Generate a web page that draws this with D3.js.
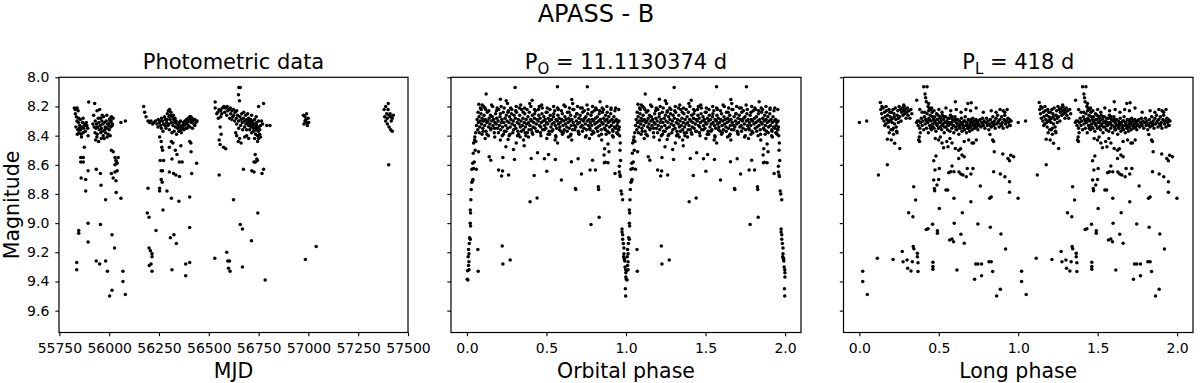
<!DOCTYPE html>
<html>
<head>
<meta charset="utf-8">
<script src="https://cdn.jsdelivr.net/npm/d3@7"></script>
<style>
  html, body { margin: 0; padding: 0; background: #fff; }
  svg text { font-family: "DejaVu Sans", sans-serif; fill: #000; }
</style>
</head>
<body>
<script>
// ---------------- DATA ----------------
const figTitle = "APASS - B";
const yLabel = "Magnitude";
const magTicks = [8.0, 8.2, 8.4, 8.6, 8.8, 9.0, 9.2, 9.4, 9.6];
const mjdTicks = [55750, 56000, 56250, 56500, 56750, 57000, 57250, 57500];
const phaseTicks = [0.0, 0.5, 1.0, 1.5, 2.0];
const orbitalPeriod = "11.1130374";
const longPeriod = "418";

// Photometric data: [MJD, magnitude]
const photData = [
[55825,8.21],[55830,8.22],[55839,8.21],[55844,8.23],[55830,8.25],[55835,8.27],[55847,8.28],[55855,8.29],[55852,8.33],[55864,8.34],[55842,8.36],[55849,8.38],[55859,8.39],[55872,8.35],[55880,8.37],[55892,8.35],[55885,8.31],[55897,8.17],[55869,8.28],[55875,8.32],[55894,8.40],[55838,8.30],[55845,8.31],[55857,8.36],[55866,8.31],[55878,8.33],[55840,8.39],[55861,8.41],[55833,8.34],[55851,8.35],[55888,8.33],[55869,8.38],
[55875,8.48],[55857,8.55],[55870,8.55],[55857,8.58],[55870,8.58],[55894,8.64],[55859,8.69],[55882,8.70],[55882,8.78],[55894,9.00],[55847,9.05],[55847,9.07],[55894,9.13],[55837,9.27],[55837,9.32],
[55927,8.18],[55952,8.22],[55922,8.26],[55939,8.23],[55945,8.28],[55957,8.28],[55972,8.27],[55988,8.26],[56005,8.28],[56012,8.27],[56020,8.28],[55930,8.30],[55936,8.32],[55948,8.31],[55955,8.33],[55963,8.30],[55968,8.32],[55975,8.31],[55980,8.34],[55985,8.30],[55992,8.32],[55998,8.33],[56003,8.31],[56010,8.30],[56016,8.32],[55925,8.34],[55933,8.35],[55942,8.34],[55950,8.36],[55960,8.35],[55966,8.37],[55978,8.36],[55990,8.35],[56000,8.36],[56008,8.34],[55929,8.38],[55940,8.39],[55958,8.38],[55970,8.40],[55982,8.38],[55995,8.39],[56005,8.40],[55932,8.43],[55947,8.44],[55960,8.42],[55975,8.42],[55990,8.41],[55938,8.41],[56015,8.33],[56002,8.29],[55965,8.26],[55918,8.32],
[55935,8.63],[55956,8.66],[55959,8.74],[55982,8.84],[55956,9.01],[55935,9.26],[55952,9.28],[55982,9.26],[55991,9.33],[56002,9.50],
[56011,8.50],[56020,8.51],[56029,8.55],[56034,8.57],[56040,8.59],[56045,8.55],[56029,8.60],[56037,8.58],[56011,8.66],[56029,8.65],[56020,8.69],[56034,8.71],[56040,8.64],[56035,8.79],[56059,8.83],[56014,9.08],[56027,9.17],[56014,9.46],[56069,9.33],[56069,9.40],[56081,9.49],[56059,8.31],[56081,8.30],
[56173,8.20],[56178,8.24],[56185,8.27],
[56195,8.30],[56203,8.31],[56210,8.30],[56218,8.32],[56225,8.31],[56232,8.30],[56240,8.32],[56246,8.29],[56252,8.31],[56258,8.33],[56263,8.28],[56268,8.30],[56273,8.32],[56278,8.27],[56283,8.29],[56288,8.31],[56292,8.25],[56297,8.23],[56300,8.27],[56303,8.22],[56306,8.29],[56310,8.24],[56313,8.31],[56317,8.27],[56320,8.33],[56324,8.29],[56328,8.31],[56332,8.34],[56336,8.30],[56340,8.32],[56344,8.35],[56348,8.33],[56352,8.31],[56356,8.34],[56360,8.36],[56364,8.33],[56368,8.35],[56372,8.31],[56376,8.33],[56380,8.30],[56384,8.32],[56388,8.29],[56392,8.31],[56396,8.28],[56400,8.30],[56404,8.27],[56408,8.29],[56412,8.31],[56416,8.28],[56420,8.30],[56425,8.32],[56430,8.29],[56436,8.31],[56441,8.30],[56262,8.35],[56270,8.37],[56285,8.35],[56295,8.33],[56302,8.36],[56315,8.38],[56326,8.37],[56338,8.39],[56350,8.37],[56362,8.38],[56375,8.36],[56390,8.35],[56405,8.34],[56418,8.35],[56430,8.33],[56290,8.29],[56308,8.26],[56322,8.26],[56245,8.34],[56255,8.30],[56280,8.33],[56300,8.32],[56330,8.28],[56358,8.30],[56385,8.35],[56397,8.33],[56410,8.27],
[56253,8.41],[56261,8.44],[56264,8.48],[56268,8.50],[56302,8.48],[56312,8.44],[56320,8.45],[56332,8.50],[56340,8.53],[56315,8.56],[56360,8.47],[56366,8.58],[56404,8.44],[56410,8.45],[56411,8.51],[56414,8.66],[56439,8.59],[56256,8.57],[56273,8.57],[56261,8.64],[56268,8.64],[56261,8.70],[56266,8.72],[56253,8.76],[56253,8.78],[56290,8.78],[56302,8.65],[56323,8.66],[56335,8.67],[56353,8.68],[56312,8.83],[56350,8.85],[56270,8.91],[56195,8.76],[56191,8.93],[56200,8.96],[56235,9.05],[56200,9.17],[56207,9.19],[56215,9.21],[56215,9.23],[56210,9.28],[56201,9.29],[56215,9.33],[56307,9.10],[56325,9.08],[56337,9.14],[56315,9.32],[56384,9.36],[56384,9.28],[56404,9.27],[56404,9.03],[56404,8.82],[56352,8.58],
[56532,8.17],[56532,8.21],[56540,8.25],[56548,8.28],[56557,8.34],[56562,8.39],[56552,8.43],[56557,8.46],[56574,8.48],[56585,8.49],[56552,8.67],[56530,9.24],[56590,9.20],[56595,9.26],[56604,9.26],[56599,9.31],[56607,9.33],[56624,8.84],[56658,9.01],[56669,9.04],[56669,9.30],[56674,8.63],[56651,8.07],[56658,8.07],[56649,8.12],[56654,8.16],
[56552,8.22],[56560,8.23],[56568,8.21],[56576,8.20],[56584,8.21],[56592,8.20],[56600,8.22],[56608,8.21],[56616,8.23],[56624,8.22],[56632,8.24],[56640,8.23],[56565,8.25],[56580,8.24],[56595,8.23],[56610,8.25],[56625,8.26],[56545,8.24],[56560,8.27],[56590,8.26],[56605,8.28],[56620,8.27],[56638,8.28],[56645,8.26],[56650,8.30],[56656,8.27],[56662,8.29],[56668,8.31],[56674,8.28],[56680,8.30],[56686,8.32],[56690,8.29],[56695,8.31],[56700,8.33],[56704,8.30],[56708,8.32],[56712,8.34],[56716,8.31],[56720,8.33],[56724,8.35],[56728,8.32],[56732,8.34],[56736,8.36],[56740,8.33],[56744,8.35],[56748,8.37],[56752,8.34],[56756,8.36],[56760,8.33],[56700,8.28],[56710,8.29],[56720,8.30],[56730,8.29],[56740,8.31],[56750,8.30],[56705,8.36],[56715,8.38],[56725,8.37],[56735,8.39],[56745,8.40],[56755,8.39],[56690,8.36],[56680,8.34],[56670,8.36],[56660,8.33],[56650,8.35],[56640,8.32],[56630,8.30],[56615,8.29],[56665,8.25],[56675,8.24],[56685,8.26],[56695,8.25],[56640,8.40],[56648,8.44],[56655,8.42],[56662,8.45],[56680,8.41],[56690,8.40],[56700,8.42],[56730,8.42],[56745,8.44],[56750,8.42],[56760,8.41],[56635,8.38],[56775,8.18],[56750,8.20],[56791,8.33],[56807,8.33],[56765,8.30],[56770,8.32],[56715,8.26],[56738,8.27],
[56733,8.53],[56741,8.56],[56744,8.57],[56734,8.58],[56727,8.58],[56716,8.64],[56727,8.65],[56775,8.63],[56767,8.66],[56746,8.93],[56714,9.12],[56783,9.39],
[56975,8.26],[56983,8.27],[56988,8.29],[56991,8.31],[56999,8.28],[56978,8.32],[56995,8.33],[56983,8.30],[56991,8.25],[57001,8.31],[56985,9.25],[57039,9.16],
[57401,8.18],[57388,8.20],[57380,8.22],[57393,8.25],[57383,8.27],[57396,8.28],[57405,8.26],[57413,8.27],[57421,8.28],[57416,8.30],[57396,8.32],[57388,8.30],[57405,8.34],[57413,8.36],[57421,8.37],[57410,8.25],[57426,8.26],[57400,8.22],[57403,8.60]
];

// Orbital phase (0-1) and magnitude; drawn twice (phase and phase + 1)
const orbData = [
[0.006,9.39],[0.002,9.385],[0.004,9.326],[0.013,9.32],[0.010,9.29],[0.013,9.265],[0.008,9.23],[0.013,9.21],[0.010,9.18],[0.015,9.14],[0.021,9.11],[0.017,9.10],[0.023,9.02],[0.021,9.00],[0.023,8.93],[0.021,8.91],[0.025,8.84],[0.027,8.77],[0.031,8.72],[0.036,8.71],[0.038,8.70],[0.031,8.63],[0.036,8.59],[0.042,8.625],[0.046,8.58],[0.040,8.52],[0.052,8.50],[0.042,8.45],[0.048,8.43],[0.056,8.44],[0.050,8.41],[0.055,8.38],[0.069,9.18],[0.071,9.33],[0.073,8.51],[0.059,8.63],
[0.969,8.78],[0.973,8.80],[0.979,8.84],[0.975,9.04],[0.975,9.06],[0.979,9.08],[0.979,9.11],[0.983,9.14],[0.987,9.17],[0.990,9.24],[0.992,9.26],[0.994,9.30],[0.998,9.32],[0.999,9.34],[0.999,9.37],[0.996,9.45],[0.998,9.50],[0.987,9.21],[0.985,9.23],[0.990,9.25],
[0.958,8.65],[0.962,8.67],[0.964,8.68],[0.958,8.61],[0.966,8.57],[0.962,8.50],[0.964,8.45],[0.960,8.40],[0.955,8.36],
[0.121,8.115],[0.21,8.15],[0.303,8.07],[0.569,8.065],[0.757,8.065],[0.659,8.152],[0.837,8.168],[0.41,8.157],[0.247,8.16],[0.075,8.184],[0.096,8.19],
[0.14,8.545],[0.15,8.568],[0.199,8.636],[0.224,8.643],[0.218,8.677],[0.262,8.67],[0.226,8.55],[0.245,8.476],[0.299,8.563],[0.293,8.495],[0.259,8.426],
[0.222,9.157],[0.226,9.28],[0.272,9.252],[0.397,8.853],[0.441,8.828],
[0.404,8.556],[0.444,8.517],[0.487,8.558],[0.502,8.645],[0.423,8.673],[0.513,8.529],[0.556,8.563],[0.594,8.705],[0.657,8.579],[0.682,8.762],[0.684,8.77],[0.699,8.558],[0.72,8.663],[0.774,8.636],[0.78,9.01],[0.831,8.96],[0.826,8.75],[0.828,8.77],[0.808,8.636],[0.79,8.568],[0.862,8.533],[0.864,8.586],[0.87,8.583],[0.887,8.586],[0.893,8.51],[0.866,8.49],[0.887,8.458],[0.931,8.659],
[0.115,8.42],[0.21,8.43],[0.335,8.41],[0.356,8.43],[0.387,8.41],[0.502,8.42],[0.554,8.43],[0.638,8.41],[0.659,8.43],[0.77,8.42],[0.847,8.43],[0.92,8.41],[0.946,8.385],[0.36,8.47],[0.31,8.45],[0.57,8.45],
[0.060,8.33],[0.064,8.29],[0.068,8.36],[0.072,8.31],[0.076,8.27],[0.080,8.34],[0.084,8.30],[0.088,8.25],[0.092,8.32],[0.096,8.28],
[0.100,8.35],[0.104,8.30],[0.108,8.26],[0.112,8.33],[0.116,8.29],[0.120,8.37],[0.124,8.31],[0.128,8.24],[0.132,8.30],[0.136,8.34],
[0.140,8.28],[0.144,8.32],[0.148,8.26],[0.152,8.35],[0.156,8.30],[0.160,8.27],[0.164,8.33],[0.168,8.29],[0.172,8.38],[0.176,8.31],
[0.180,8.25],[0.184,8.32],[0.188,8.28],[0.192,8.35],[0.196,8.30],[0.200,8.22],[0.204,8.33],[0.208,8.27],[0.212,8.36],[0.216,8.31],
[0.220,8.29],[0.224,8.34],[0.228,8.24],[0.232,8.31],[0.236,8.37],[0.240,8.28],[0.244,8.33],[0.248,8.26],[0.252,8.30],[0.256,8.35],
[0.260,8.23],[0.264,8.31],[0.268,8.27],[0.272,8.34],[0.276,8.29],[0.280,8.25],[0.284,8.32],[0.288,8.38],[0.292,8.30],[0.296,8.26],
[0.300,8.33],[0.304,8.28],[0.308,8.35],[0.312,8.24],[0.316,8.31],[0.320,8.37],[0.324,8.29],[0.328,8.32],[0.332,8.26],[0.336,8.34],
[0.340,8.30],[0.344,8.22],[0.348,8.33],[0.352,8.28],[0.356,8.36],[0.360,8.31],[0.364,8.25],[0.368,8.34],[0.372,8.29],[0.376,8.32],
[0.380,8.38],[0.384,8.27],[0.388,8.31],[0.392,8.24],[0.396,8.33],[0.400,8.29],[0.404,8.36],[0.408,8.30],[0.412,8.26],[0.416,8.34],
[0.420,8.31],[0.424,8.28],[0.428,8.35],[0.432,8.23],[0.436,8.32],[0.440,8.29],[0.444,8.37],[0.448,8.30],[0.452,8.26],[0.456,8.33],
[0.460,8.28],[0.464,8.34],[0.468,8.31],[0.472,8.25],[0.476,8.36],[0.480,8.30],[0.484,8.27],[0.488,8.33],[0.492,8.29],[0.496,8.35],
[0.500,8.31],[0.504,8.24],[0.508,8.32],[0.512,8.28],[0.516,8.37],[0.520,8.30],[0.524,8.26],[0.528,8.34],[0.532,8.29],[0.536,8.32],
[0.540,8.36],[0.544,8.27],[0.548,8.31],[0.552,8.23],[0.556,8.33],[0.560,8.29],[0.564,8.35],[0.568,8.30],[0.572,8.26],[0.576,8.32],
[0.580,8.28],[0.584,8.34],[0.588,8.31],[0.592,8.37],[0.596,8.29],[0.600,8.25],[0.604,8.33],[0.608,8.30],[0.612,8.36],[0.616,8.27],
[0.620,8.32],[0.624,8.29],[0.628,8.34],[0.632,8.24],[0.636,8.31],[0.640,8.28],[0.644,8.35],[0.648,8.30],[0.652,8.26],[0.656,8.33],
[0.660,8.29],[0.664,8.36],[0.668,8.31],[0.672,8.22],[0.676,8.33],[0.680,8.27],[0.684,8.34],[0.688,8.30],[0.692,8.25],[0.696,8.32],
[0.700,8.37],[0.704,8.28],[0.708,8.31],[0.712,8.26],[0.716,8.34],[0.720,8.29],[0.724,8.33],[0.728,8.24],[0.732,8.30],[0.736,8.35],
[0.740,8.28],[0.744,8.32],[0.748,8.27],[0.752,8.36],[0.756,8.30],[0.760,8.25],[0.764,8.33],[0.768,8.29],[0.772,8.35],[0.776,8.31],
[0.780,8.26],[0.784,8.33],[0.788,8.29],[0.792,8.37],[0.796,8.30],[0.800,8.23],[0.804,8.32],[0.808,8.28],[0.812,8.35],[0.816,8.31],
[0.820,8.27],[0.824,8.34],[0.828,8.30],[0.832,8.25],[0.836,8.33],[0.840,8.29],[0.844,8.36],[0.848,8.31],[0.852,8.24],[0.856,8.32],
[0.860,8.28],[0.864,8.35],[0.868,8.30],[0.872,8.26],[0.876,8.33],[0.880,8.29],[0.884,8.37],[0.888,8.31],[0.892,8.27],[0.896,8.34],
[0.900,8.30],[0.904,8.25],[0.908,8.33],[0.912,8.29],[0.916,8.36],[0.920,8.31],[0.924,8.27],[0.928,8.34],[0.932,8.30],[0.936,8.35],
[0.940,8.29],[0.944,8.33],[0.948,8.31],[0.952,8.36],[0.956,8.30],[0.958,8.34],
[0.070,8.24],[0.078,8.38],[0.090,8.22],[0.102,8.37],[0.114,8.21],[0.126,8.39],[0.138,8.23],[0.150,8.36],[0.162,8.20],[0.174,8.35],[0.186,8.23],[0.198,8.38],[0.210,8.25],[0.222,8.40],[0.234,8.21],[0.246,8.37],[0.258,8.24],[0.270,8.39],[0.282,8.22],[0.294,8.36],[0.306,8.23],[0.318,8.40],[0.330,8.21],[0.342,8.37],[0.354,8.24],[0.366,8.38],[0.378,8.22],[0.390,8.36],[0.402,8.20],[0.414,8.39],[0.426,8.25],[0.438,8.37],[0.450,8.22],[0.462,8.38],[0.474,8.21],[0.486,8.36],[0.498,8.24],[0.510,8.39],[0.522,8.22],[0.534,8.37],[0.546,8.25],[0.558,8.40],[0.570,8.21],[0.582,8.36],[0.594,8.23],[0.606,8.38],[0.618,8.20],[0.630,8.37],[0.642,8.24],[0.654,8.39],[0.666,8.22],[0.678,8.36],[0.690,8.25],[0.702,8.38],[0.714,8.21],[0.726,8.37],[0.738,8.23],[0.750,8.40],[0.762,8.22],[0.774,8.36],[0.786,8.24],[0.798,8.38],[0.810,8.21],[0.822,8.37],[0.834,8.23],[0.846,8.39],[0.858,8.22],[0.870,8.36],[0.882,8.24],[0.894,8.38],[0.906,8.21],[0.918,8.37],[0.930,8.23],[0.942,8.38],[0.954,8.22],
[0.085,8.21],[0.105,8.20],[0.118,8.22],[0.155,8.19],[0.190,8.21],[0.215,8.20],[0.255,8.18],[0.275,8.21],[0.310,8.20],[0.338,8.19],[0.362,8.21],[0.395,8.18],[0.425,8.22],[0.455,8.20],[0.470,8.19],[0.505,8.21],[0.545,8.20],[0.575,8.22],[0.610,8.19],[0.645,8.21],[0.665,8.18],[0.695,8.20],[0.725,8.21],[0.755,8.19],[0.790,8.20],[0.815,8.22],[0.850,8.21],[0.880,8.20],[0.905,8.22],[0.935,8.21],
[0.095,8.39],[0.135,8.40],[0.175,8.41],[0.230,8.39],[0.265,8.40],[0.325,8.39],[0.370,8.40],[0.410,8.38],[0.465,8.40],[0.520,8.39],[0.560,8.41],[0.600,8.39],[0.650,8.40],[0.705,8.39],[0.745,8.41],[0.785,8.39],[0.830,8.40],[0.875,8.39],[0.915,8.40],[0.950,8.39]
];

// Long phase (0-1) and magnitude; drawn twice (phase and phase + 1)
const longData = [
[0.0,8.31],[0.046,8.30],[0.021,9.33],[0.021,9.40],[0.05,9.49],[0.113,9.24],[0.12,8.67],[0.176,8.60],[0.212,9.25],[0.27,9.195],[0.275,9.264],[0.30,9.252],[0.304,9.31],[0.325,9.328],[0.333,9.264],[0.31,8.928],[0.337,8.956],[0.342,8.75],[0.354,8.842],[0.339,9.161],[0.343,9.175],[0.365,9.207],[0.365,9.23],[0.369,9.271],[0.369,9.332],
[0.176,8.424],[0.201,8.43],[0.222,8.453],[0.254,8.488],[0.237,8.38],
[0.421,9.043],[0.432,9.038],[0.461,9.008],[0.491,9.052],[0.491,9.07],[0.463,9.268],[0.463,9.298],[0.463,9.316],
[0.468,8.705],[0.472,8.762],[0.474,8.778],[0.488,8.739],[0.499,8.701],[0.503,8.625],[0.476,8.636],[0.468,8.572],[0.482,8.54],[0.503,8.899],[0.545,8.773],[0.556,8.773],[0.562,8.654],[0.574,8.647],[0.595,8.647],[0.583,8.609],[0.595,8.83],[0.597,9.0],[0.568,9.116],[0.583,9.109],[0.593,9.127],[0.614,9.321],[0.625,8.556],[0.627,8.65],[0.639,8.663],[0.652,8.67],[0.673,8.682],[0.679,8.625],[0.639,9.077],[0.648,8.928],[0.66,9.138],[0.646,8.533],[0.66,8.545],[0.702,8.853],[0.715,8.625],[0.702,8.663],[0.761,8.746],[0.746,9.006],[0.732,9.28],[0.725,9.385],[0.746,9.28],[0.769,9.28],[0.769,9.36],[0.816,9.264],[0.830,9.264],[0.824,9.029],[0.82,8.83],[0.83,8.82],[0.839,9.332],[0.845,8.647],[0.849,8.51],[0.864,9.499],[0.887,8.663],[0.887,9.453],[0.891,9.075],[0.903,8.526],[0.916,8.682],[0.92,9.177],[0.935,8.556],[0.945,8.572],[0.945,8.716],[0.945,8.789],[0.953,8.535],[0.971,8.545],[0.999,8.83],
[0.405,8.065],[0.426,8.065],[0.413,8.115],[0.417,8.14],[0.421,8.168],[0.436,8.18],[0.432,8.20],[0.44,8.21],[0.45,8.22],[0.604,8.168],[0.683,8.18],[0.704,8.175],[0.361,8.157],[0.132,8.173],[0.142,8.20],[0.279,8.19],
[0.373,8.43],[0.377,8.41],[0.383,8.38],[0.379,8.44],[0.447,8.35],[0.478,8.42],[0.499,8.43],[0.509,8.41],[0.53,8.483],[0.558,8.476],[0.583,8.45],[0.604,8.488],[0.625,8.50],[0.637,8.49],[0.688,8.43],[0.709,8.45],[0.719,8.45],[0.736,8.43],[0.839,8.43],[0.845,8.44],[0.822,8.392],[0.55,8.44],[0.57,8.42],[0.66,8.44],[0.52,8.45],
[0.135,8.22],[0.140,8.25],[0.145,8.28],[0.150,8.21],[0.155,8.30],[0.158,8.24],[0.162,8.27],[0.166,8.32],[0.170,8.23],[0.174,8.29],[0.178,8.26],[0.182,8.34],[0.186,8.22],[0.190,8.30],[0.194,8.27],[0.198,8.36],[0.202,8.24],[0.206,8.31],[0.210,8.28],[0.214,8.35],[0.218,8.25],[0.222,8.32],[0.226,8.21],[0.230,8.29],[0.234,8.37],[0.238,8.26],[0.242,8.23],[0.246,8.31],[0.250,8.20],[0.254,8.27],[0.258,8.22],[0.262,8.30],[0.266,8.24],[0.270,8.21],[0.274,8.26],[0.278,8.23],[0.282,8.20],[0.286,8.25],[0.290,8.22],[0.294,8.28],[0.298,8.24],[0.302,8.21],[0.306,8.26],[0.312,8.23],[0.318,8.28],[0.324,8.22],[0.330,8.25],[0.160,8.33],[0.180,8.31],[0.200,8.29],[0.220,8.27],[0.245,8.28],[0.192,8.24],[0.212,8.22],[0.168,8.20],[0.232,8.34],[0.188,8.38],[0.208,8.36],[0.215,8.39],
[0.360,8.31],[0.365,8.30],[0.370,8.33],[0.375,8.30],[0.380,8.35],[0.385,8.31],[0.390,8.28],[0.395,8.33],[0.400,8.30],[0.405,8.36],[0.410,8.27],[0.414,8.32],[0.418,8.29],[0.422,8.35],[0.426,8.25],[0.430,8.31],[0.434,8.38],[0.438,8.28],[0.442,8.33],[0.446,8.26],[0.450,8.30],[0.454,8.36],[0.458,8.24],[0.462,8.32],[0.466,8.29],[0.470,8.35],[0.474,8.27],[0.478,8.31],[0.482,8.37],[0.486,8.25],[0.490,8.33],[0.494,8.29],[0.498,8.35],[0.502,8.31],[0.506,8.27],[0.510,8.34],[0.514,8.30],[0.518,8.36],[0.522,8.26],[0.526,8.32],[0.530,8.29],[0.534,8.38],[0.538,8.31],[0.542,8.27],[0.546,8.34],[0.550,8.30],[0.554,8.36],[0.558,8.28],[0.562,8.33],[0.566,8.31],[0.570,8.37],[0.574,8.26],[0.578,8.32],[0.582,8.35],[0.586,8.29],[0.590,8.33],[0.594,8.38],[0.598,8.30],[0.602,8.27],[0.606,8.34],[0.610,8.31],[0.614,8.36],[0.618,8.29],[0.622,8.33],[0.626,8.39],[0.630,8.30],[0.634,8.35],[0.638,8.32],[0.642,8.28],[0.646,8.37],[0.650,8.31],[0.654,8.34],[0.658,8.30],[0.662,8.36],[0.666,8.27],[0.670,8.33],[0.674,8.38],[0.678,8.31],[0.682,8.35],[0.686,8.29],[0.690,8.33],[0.694,8.37],[0.698,8.30],[0.702,8.34],[0.706,8.31],[0.710,8.36],[0.714,8.28],[0.718,8.33],[0.722,8.30],[0.726,8.35],[0.730,8.32],[0.734,8.29],[0.738,8.34],[0.742,8.31],[0.746,8.36],[0.750,8.30],[0.755,8.33],[0.760,8.29],[0.765,8.34],[0.770,8.31],[0.775,8.28],[0.780,8.33],[0.785,8.30],[0.790,8.35],[0.795,8.31],[0.800,8.28],[0.805,8.33],[0.810,8.30],[0.815,8.36],[0.820,8.32],[0.825,8.29],[0.830,8.34],[0.835,8.31],[0.840,8.27],[0.845,8.33],[0.850,8.30],[0.855,8.35],[0.860,8.28],[0.865,8.32],[0.870,8.26],[0.875,8.30],[0.880,8.34],[0.885,8.29],[0.890,8.32],[0.895,8.27],[0.900,8.31],[0.905,8.35],[0.910,8.29],[0.915,8.26],[0.920,8.32],[0.925,8.30],[0.930,8.34],[0.935,8.28],[0.940,8.31],[0.945,8.29],[0.950,8.33],[0.955,8.30],
[0.412,8.24],[0.424,8.30],[0.436,8.23],[0.448,8.33],[0.460,8.27],[0.472,8.30],[0.484,8.32],[0.496,8.26],[0.508,8.31],[0.520,8.33],[0.532,8.27],[0.544,8.31],[0.556,8.32],[0.568,8.28],[0.580,8.31],[0.592,8.33],[0.604,8.29],[0.616,8.32],[0.628,8.34],[0.640,8.31],[0.652,8.33],[0.664,8.30],[0.676,8.32],[0.688,8.35],[0.700,8.32],[0.712,8.31],[0.724,8.33],[0.736,8.30],[0.748,8.32],[0.440,8.29],[0.464,8.34],[0.488,8.29],[0.512,8.28],[0.536,8.34],[0.560,8.31],[0.584,8.27],[0.608,8.36],[0.632,8.33],[0.656,8.35],[0.680,8.33],[0.704,8.29],[0.728,8.34],[0.752,8.33],[0.776,8.32],[0.800,8.31],[0.824,8.33],[0.848,8.32],[0.872,8.31],[0.896,8.33],[0.920,8.30],[0.944,8.33],
[0.380,8.22],[0.395,8.24],[0.455,8.21],[0.470,8.23],[0.500,8.22],[0.520,8.24],[0.545,8.21],[0.575,8.23],[0.610,8.22],[0.640,8.24],[0.670,8.22],[0.700,8.23],[0.735,8.21],[0.780,8.24],[0.830,8.23],[0.860,8.24],[0.885,8.22],[0.905,8.23],[0.930,8.22],[0.915,8.24]
];

// ---------------- DRAWING ----------------
const W = 1200, H = 383;
const plotTop = 77.3, plotBottom = 332.5;
const svg = d3.select("body").append("svg")
  .attr("width", W).attr("height", H)
  .attr("viewBox", `0 0 ${W} ${H}`);

svg.append("text")
  .attr("x", 596).attr("y", 22)
  .attr("text-anchor", "middle")
  .style("font-size", "24px")
  .text(figTitle);

const y = d3.scaleLinear().domain([8.0, 9.75]).range([plotTop, plotBottom]);

const dup = arr => arr.flatMap(d => [[d[0], d[1]], [d[0] + 1, d[1]]]);

const panels = [
  { left: 59,    width: 349, domain: [55748, 57500], ticks: mjdTicks, fmt: d3.format("d"),
    data: photData, xlabel: "MJD", title: [["Photometric data", null]], yLabels: true },
  { left: 451,   width: 350, domain: [-0.1, 2.1], ticks: phaseTicks, fmt: d3.format(".1f"),
    data: dup(orbData), xlabel: "Orbital phase", title: [["P", null], ["O", "sub"], [" = " + orbitalPeriod + " d", null]], yLabels: false },
  { left: 843.5, width: 349.5, domain: [-0.1, 2.1], ticks: phaseTicks, fmt: d3.format(".1f"),
    data: dup(longData), xlabel: "Long phase", title: [["P", null], ["L", "sub"], [" = " + longPeriod + " d", null]], yLabels: false }
];

panels.forEach(p => {
  const x = d3.scaleLinear().domain(p.domain).range([p.left, p.left + p.width]);
  const g = svg.append("g");

  // points
  g.append("g").selectAll("circle").data(p.data).join("circle")
    .attr("cx", d => x(d[0])).attr("cy", d => y(d[1]))
    .attr("r", 1.75).attr("fill", "#000");

  // x axis
  const xa = g.append("g").attr("transform", `translate(0,${plotBottom})`)
    .call(d3.axisBottom(x).tickValues(p.ticks).tickFormat(p.fmt).tickSize(3.7).tickSizeOuter(0).tickPadding(6.8));
  xa.select(".domain").remove();
  xa.selectAll("line").attr("stroke", "#000").attr("stroke-width", 1.1);
  xa.selectAll("text").style("font-size", "14px").attr("fill", "#000")
    .style("font-family", '"DejaVu Sans", sans-serif');

  // y axis
  const ya = g.append("g").attr("transform", `translate(${p.left},0)`)
    .call(d3.axisLeft(y).tickValues(magTicks).tickFormat(p.yLabels ? d3.format(".1f") : () => "")
      .tickSize(3.7).tickSizeOuter(0).tickPadding(6));
  ya.select(".domain").remove();
  ya.selectAll("line").attr("stroke", "#000").attr("stroke-width", 1.1);
  ya.selectAll("text").style("font-size", "14px").attr("fill", "#000")
    .style("font-family", '"DejaVu Sans", sans-serif');

  // frame
  g.append("rect")
    .attr("x", p.left).attr("y", plotTop)
    .attr("width", p.width).attr("height", plotBottom - plotTop)
    .attr("fill", "none").attr("stroke", "#000").attr("stroke-width", 1.2);

  // subplot title
  const t = g.append("text")
    .attr("x", p.left + p.width / 2).attr("y", 69)
    .attr("text-anchor", "middle")
    .style("font-size", "21px");
  p.title.forEach(([s, kind]) => {
    if (kind === "sub") {
      t.append("tspan").attr("dy", 4.5).style("font-size", "15px").text(s);
    } else {
      const ts = t.append("tspan").text(s);
      if (t.selectAll("tspan").size() > 1) ts.attr("dy", -4.5);
    }
  });

  // x label
  g.append("text")
    .attr("x", p.left + p.width / 2).attr("y", 378)
    .attr("text-anchor", "middle")
    .style("font-size", "20.5px")
    .text(p.xlabel);
});

// y label
svg.append("text")
  .attr("transform", `translate(18.5,${(plotTop + plotBottom) / 2}) rotate(-90)`)
  .attr("text-anchor", "middle")
  .style("font-size", "20.5px")
  .text(yLabel);
</script>
</body>
</html>
